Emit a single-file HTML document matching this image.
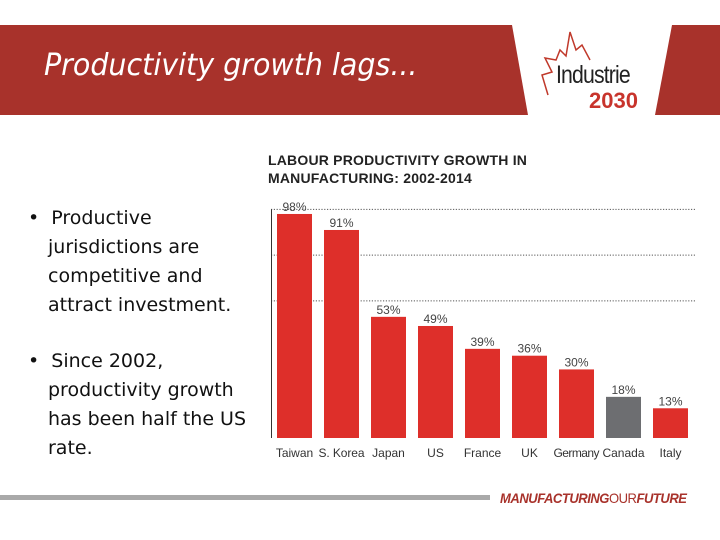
<!DOCTYPE html>
<html><head><meta charset="utf-8"><style>
body{margin:0;width:720px;height:540px;background:#fff;position:relative;overflow:hidden;font-family:"Liberation Sans",sans-serif}
.abs{position:absolute}
</style></head><body>
<div class="abs" style="left:0;top:25px;width:720px;height:90px;background:#a8322b"></div>
<svg class="abs" style="left:0;top:0" width="720" height="540">
<polygon points="512,25 672,25 655,115 528,115" fill="#fff"/>
<path d="M548,95 L542,75 L552,72 L545,58 L556,60 L560,50 L566,56 L570,32 L576,50 L582,45 L590,60" fill="none" stroke="#c0392b" stroke-width="1.5"/>
</svg>
<div class="abs" style="left:44px;top:48px;color:#fff;font-style:italic;font-size:30px;font-family:'DejaVu Sans','Liberation Sans',sans-serif;font-weight:300;transform:scaleX(0.95);transform-origin:left">Productivity growth lags...</div>
<div class="abs" style="left:556px;top:61px;font-size:25px;color:#222;letter-spacing:-1px;transform:scaleX(0.85);transform-origin:left">Industrie</div>
<div class="abs" style="left:589px;top:88px;font-size:22px;font-weight:bold;color:#c8342c">2030</div>

<div class="abs" style="left:28px;top:204px;width:230px;font-family:'DejaVu Sans','Liberation Sans',sans-serif;font-size:19px;line-height:29px;color:#111">
<div style="padding-left:20px;text-indent:-20px">•&nbsp;&nbsp;Productive jurisdictions are competitive and attract investment.</div>
<div style="padding-left:20px;text-indent:-20px;margin-top:27px">•&nbsp;&nbsp;Since 2002, productivity growth has been half the US rate.</div>
</div>

<div class="abs" style="left:268px;top:151px;font-size:14px;font-weight:bold;line-height:18px;color:#222;letter-spacing:0.2px">LABOUR PRODUCTIVITY GROWTH IN<br>MANUFACTURING: 2002-2014</div>

<svg class="abs" id="chart" style="left:0;top:0" width="720" height="540"></svg>

<div class="abs" style="left:0;top:495px;width:490px;height:5px;background:#a9a9a9"></div>
<div class="abs" style="left:500px;top:490px;font-size:14px;font-style:italic;font-weight:bold;color:#a8322b;letter-spacing:-0.5px;transform:scaleX(0.93);transform-origin:left">MANUFACTURING<span style="font-weight:normal;font-style:normal">OUR</span>FUTURE</div>

<script>
const categories=["Taiwan","S. Korea","Japan","US","France","UK","Germany","Canada","Italy"];
const values=[98,91,53,49,39,36,30,18,13];
const valueLabels=["98%","91%","53%","49%","39%","36%","30%","18%","13%"];
const gridValues=[60,80,100];
const NS="http://www.w3.org/2000/svg";
const svg=document.getElementById('chart');
const baseY=438,scale=2.286,x0=277,step=47,bw=35;
const y=v=>baseY-v*scale;
const x=i=>x0+i*step;
function mk(t,a){const e=document.createElementNS(NS,t);for(const k in a)e.setAttribute(k,a[k]);svg.appendChild(e);return e;}
gridValues.forEach(g=>{
 const l=mk('line',{x1:271,x2:695,y1:y(g),y2:y(g),stroke:'#555','stroke-width':1,'stroke-dasharray':'1.2,1.6'});
 
 
});
const ax=mk('line',{x1:271.5,x2:271.5,y1:y(100),y2:baseY,stroke:'#333','stroke-width':1});


categories.forEach((c,i)=>{
 const r=mk('rect',{x:x(i),y:y(values[i]),width:bw,height:baseY-y(values[i]),fill:c==='Canada'?'#6d6e71':'#de2f2a'});
 
 
 const t=mk('text',{x:x(i)+bw/2,y:y(values[i])-3,'text-anchor':'middle','font-size':12,fill:'#444','font-family':'Liberation Sans, sans-serif'});
 t.textContent=valueLabels[i];
 
 
 const xl=mk('text',{x:x(i)+bw/2,y:baseY+19,'text-anchor':'middle','font-size':12,fill:'#333','font-family':'Liberation Sans, sans-serif','textLength':c.length>6?46:null});
 if(c.length<=6)xl.removeAttribute('textLength');
 xl.textContent=c;
 
 
});
</script>
</body></html>
